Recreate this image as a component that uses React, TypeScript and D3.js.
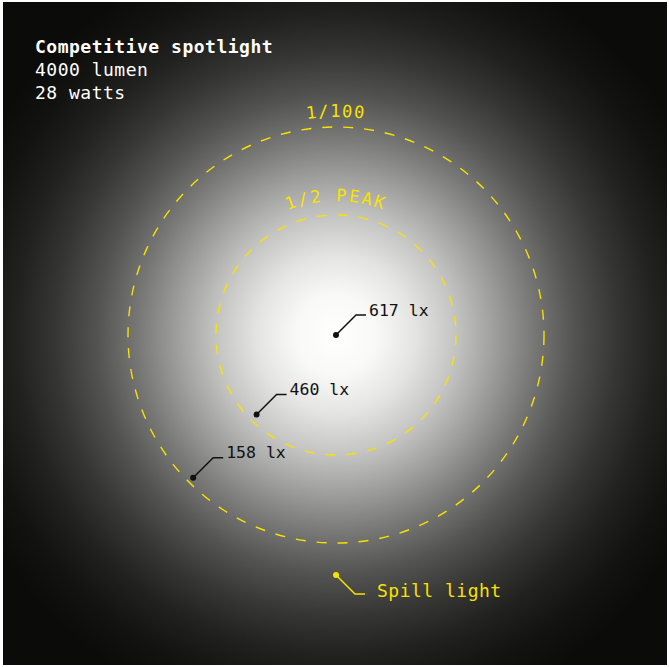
import React, { useEffect, useRef } from 'react'
import * as d3 from 'd3'

// rings drawn around the beam centre (distance relative to the 1/100 ring)
const ringLabels = ['1/2 PEAK', '1/100']
const ringDist = [0.577, 1.0]

// illuminance readings
const readingLabels = ['617 lx', '460 lx', '158 lx']
const readingDist = [0, 0.54, 0.971]

const spillLabel = 'Spill light'
const spillDist = 1.154

const titleLines = ['Competitive spotlight', '4000 lumen', '28 watts']

// brightness: distance (relative) -> grey level
const glowDist = [0, 0.19, 0.38, 0.58, 0.77, 0.96, 1.15, 1.35, 1.54, 1.73, 1.92]
const glowGrey = [255, 249, 228, 195, 157, 118, 83, 54, 33, 19, 11]

export default function App() {
  const svgRef = useRef(null)

  const width = 669
  const height = 667
  const cx = 336
  const cy = 335
  const yellow = '#f8e200'
  const mono = '"DejaVu Sans Mono", monospace'

  useEffect(() => {
    const svg = d3.select(svgRef.current)
    svg.selectAll('*').remove()

    const r = d3.scaleLinear().domain([0, 1]).range([0, 208])
    const maxR = r(glowDist[glowDist.length - 1])

    const defs = svg.append('defs')
    const grad = defs.append('radialGradient')
      .attr('id', 'glow')
      .attr('gradientUnits', 'userSpaceOnUse')
      .attr('cx', cx).attr('cy', cy).attr('r', maxR)
    grad.selectAll('stop')
      .data(glowDist)
      .join('stop')
      .attr('offset', d => r(d) / maxR)
      .attr('stop-color', (d, i) => {
        const g = glowGrey[i]
        return d3.rgb(g, g, Math.max(0, g - 2)).toString()
      })

    svg.append('rect')
      .attr('x', 3).attr('y', 2)
      .attr('width', 664).attr('height', 663)
      .attr('fill', 'url(#glow)')

    // dashed rings
    svg.append('g')
      .selectAll('circle')
      .data(ringDist)
      .join('circle')
      .attr('cx', cx).attr('cy', cy)
      .attr('r', d => r(d))
      .attr('fill', 'none')
      .attr('stroke', yellow)
      .attr('stroke-width', 1.4)
      .attr('stroke-dasharray', '10,11')

    // curved ring labels
    const labelR = [r(ringDist[0]) + 14, r(ringDist[1]) + 10]
    ringLabels.forEach((lab, i) => {
      const R = labelR[i]
      defs.append('path')
        .attr('id', 'arc' + i)
        .attr('d', `M${cx - R},${cy} A${R},${R} 0 0 1 ${cx + R},${cy}`)
      svg.append('text')
        .attr('font-family', mono)
        .attr('font-size', 17)
        .attr('letter-spacing', i === 0 ? 2.2 : 1.5)
        .attr('fill', yellow)
        .append('textPath')
        .attr('href', '#arc' + i)
        .attr('startOffset', '50%')
        .attr('text-anchor', 'middle')
        .text(lab)
    })

    // readings with leader lines (pointing up-right)
    const ang = (3 * Math.PI) / 4
    const pts = readingDist.map((d, i) => ({
      x: cx + Math.cos(ang) * r(d),
      y: cy + Math.sin(ang) * r(d),
      label: readingLabels[i],
    }))
    const g = svg.append('g')
    g.selectAll('path')
      .data(pts)
      .join('path')
      .attr('d', d => `M${d.x},${d.y} L${d.x + 20},${d.y - 20} H${d.x + 30}`)
      .attr('fill', 'none')
      .attr('stroke', '#111')
      .attr('stroke-width', 1.5)
    g.selectAll('circle')
      .data(pts)
      .join('circle')
      .attr('cx', d => d.x).attr('cy', d => d.y)
      .attr('r', 3)
      .attr('fill', '#111')
    g.selectAll('text')
      .data(pts)
      .join('text')
      .attr('x', d => d.x + 33)
      .attr('y', d => d.y - 19.5)
      .attr('font-family', mono)
      .attr('font-size', 16.5)
      .attr('fill', '#111')
      .text(d => d.label)

    // spill light callout (pointing down-right)
    const sx = cx
    const sy = cy + r(spillDist)
    svg.append('path')
      .attr('d', `M${sx},${sy} L${sx + 19},${sy + 19} H${sx + 29}`)
      .attr('fill', 'none')
      .attr('stroke', yellow)
      .attr('stroke-width', 1.5)
    svg.append('circle')
      .attr('cx', sx).attr('cy', sy)
      .attr('r', 3)
      .attr('fill', yellow)
    svg.append('text')
      .attr('x', sx + 41)
      .attr('y', sy + 22)
      .attr('font-family', mono)
      .attr('font-size', 18)
      .attr('letter-spacing', 0.5)
      .attr('fill', yellow)
      .text(spillLabel)

    // title block
    svg.append('g')
      .selectAll('text')
      .data(titleLines)
      .join('text')
      .attr('x', 35)
      .attr('y', (d, i) => 53 + i * 23)
      .attr('font-family', mono)
      .attr('font-size', 18)
      .attr('letter-spacing', 0.5)
      .attr('font-weight', (d, i) => (i === 0 ? 'bold' : 'normal'))
      .attr('fill', '#fff')
      .text(d => d)
  })

  return (
    <svg
      ref={svgRef}
      width={width}
      height={height}
      style={{ position: 'absolute', left: 0, top: 0, background: '#fff' }}
    />
  )
}
